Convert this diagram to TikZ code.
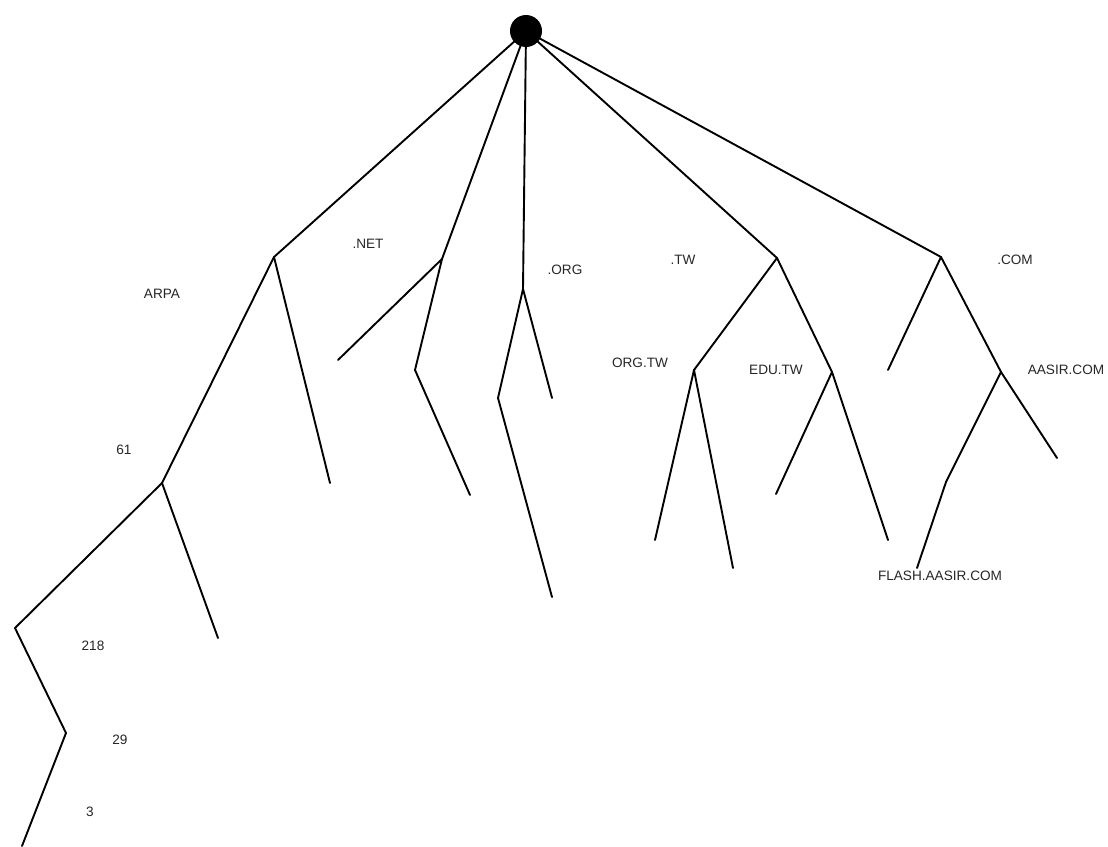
\documentclass[tikz,border=0pt]{standalone}
\usepackage{fontspec}
\setmainfont{Liberation Sans}
\begin{document}
\begin{tikzpicture}[x=1pt,y=-1pt,
  edge/.style={line width=1.9pt, line cap=round},
  lbl/.style={font=\fontsize{13.6}{15}\selectfont, inner sep=0pt, text=black!85},
  rootdot/.style={circle, fill=black, minimum size=32pt, inner sep=0pt}]
\useasboundingbox (0,0) rectangle (1108,846);
% junctions and leaves
\coordinate (arpa) at (274,257);
\coordinate (arpaR) at (330,483);
\coordinate (n61) at (162,483);
\coordinate (n61R) at (218,638);
\coordinate (n218) at (15,628);
\coordinate (n29) at (66,733);
\coordinate (n3) at (22,846);
\coordinate (net) at (442,259);
\coordinate (netL) at (338,360);
\coordinate (netM) at (415,370);
\coordinate (netR) at (470,495);
\coordinate (org) at (523,289);
\coordinate (orgL) at (498,398);
\coordinate (orgR) at (552,398);
\coordinate (orgLL) at (552,597);
\coordinate (tw) at (777,258);
\coordinate (orgtw) at (694,370);
\coordinate (edutw) at (832,372);
\coordinate (orgtwL) at (655,540);
\coordinate (orgtwR) at (733,568);
\coordinate (edutwL) at (776,494);
\coordinate (edutwR) at (888,540);
\coordinate (com) at (941,257);
\coordinate (comL) at (888,370);
\coordinate (aasir) at (1001,372);
\coordinate (aasirR) at (1057,458);
\coordinate (flashJ) at (946,482);
\coordinate (flash) at (917,568);
\node[rootdot] (root) at (526,31) {};
% edges
\draw[edge] (root.center) -- (arpa);
\draw[edge] (arpa) -- (arpaR);
\draw[edge] (arpa) -- (n61);
\draw[edge] (n61) -- (n218);
\draw[edge] (n61) -- (n61R);
\draw[edge] (n218) -- (n29);
\draw[edge] (n29) -- (n3);
\draw[edge] (root.center) -- (net);
\draw[edge] (net) -- (netL);
\draw[edge] (net) -- (netM);
\draw[edge] (netM) -- (netR);
\draw[edge] (root.center) -- (org);
\draw[edge] (org) -- (orgL);
\draw[edge] (org) -- (orgR);
\draw[edge] (orgL) -- (orgLL);
\draw[edge] (root.center) -- (tw);
\draw[edge] (tw) -- (orgtw);
\draw[edge] (tw) -- (edutw);
\draw[edge] (orgtw) -- (orgtwL);
\draw[edge] (orgtw) -- (orgtwR);
\draw[edge] (edutw) -- (edutwL);
\draw[edge] (edutw) -- (edutwR);
\draw[edge] (root.center) -- (com);
\draw[edge] (com) -- (comL);
\draw[edge] (com) -- (aasir);
\draw[edge] (aasir) -- (aasirR);
\draw[edge] (aasir) -- (flashJ);
\draw[edge] (flashJ) -- (flash);
% labels
\node[lbl] (tARPA) at (162,294) {ARPA};
\node[lbl] (tNET) at (368,244) {.NET};
\node[lbl] (tORG) at (565,270) {.ORG};
\node[lbl] (tTW) at (683,260) {.TW};
\node[lbl] (tCOM) at (1015,260) {.COM};
\node[lbl] (tORGTW) at (640,363) {ORG.TW};
\node[lbl] (tEDUTW) at (776,370) {EDU.TW};
\node[lbl] (tAASIR) at (1066,370) {AASIR.COM};
\node[lbl] (t61) at (124,450) {61};
\node[lbl] (t218) at (93,646) {218};
\node[lbl] (t29) at (120,740) {29};
\node[lbl] (t3) at (90,812) {3};
\node[lbl] (tFLASH) at (940,576) {FLASH.AASIR.COM};
\end{tikzpicture}
\end{document}
